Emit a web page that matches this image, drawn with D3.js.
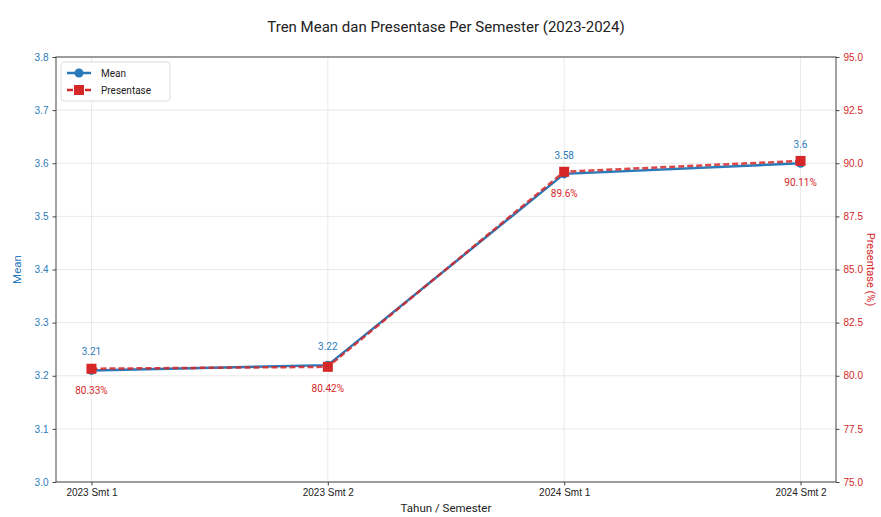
<!DOCTYPE html>
<html><head><meta charset="utf-8">
<script src="https://cdn.jsdelivr.net/npm/d3@7"></script>
<style>body{margin:0;background:#fff}svg{font-family:Roboto,"Open Sans",sans-serif}</style>
</head><body>
<script>
const categories = ["2023 Smt 1","2023 Smt 2","2024 Smt 1","2024 Smt 2"];
const meanValues = [3.21, 3.22, 3.58, 3.60];
const pctValues = [80.33, 80.42, 89.6, 90.11];
const meanLabels = ["3.21","3.22","3.58","3.6"];
const pctLabels = ["80.33%","80.42%","89.6%","90.11%"];
const meanTicks = [3.0,3.1,3.2,3.3,3.4,3.5,3.6,3.7,3.8];
const pctTicks = [75.0,77.5,80.0,82.5,85.0,87.5,90.0,92.5,95.0];

const W=881,H=517, L=56, R=836, T=57, B=482;
const blue="#2b7bba", red="#d62728";
const svg=d3.select("body").append("svg").attr("width",W).attr("height",H);

// matplotlib-like margins: 0.05 of data range each side
const xs=d3.scaleLinear().domain([-0.15,3.15]).range([L,R]);
const xp=c=>xs(categories.indexOf(c));
const y=d3.scaleLinear().domain([3.0,3.8]).range([B,T]);
const y2=d3.scaleLinear().domain([75,95]).range([B,T]);

// grid
const g=svg.append("g");
g.selectAll(".hg").data(meanTicks).join("line").attr("x1",L).attr("x2",R)
 .attr("y1",d=>y(d)).attr("y2",d=>y(d)).attr("stroke","#e3e3e3").attr("stroke-width",0.8);
g.selectAll(".vg").data(categories).join("line").attr("y1",T).attr("y2",B)
 .attr("x1",d=>xp(d)).attr("x2",d=>xp(d)).attr("stroke","#e3e3e3").attr("stroke-width",0.8);

// axes
const ax=svg.append("g").attr("transform",`translate(${L},0)`)
 .call(d3.axisLeft(y).tickValues(meanTicks).tickFormat(d3.format(".1f")).tickSize(3.5).tickPadding(4));
ax.selectAll("text").attr("fill",blue).style("font-size","10px");
const ax2=svg.append("g").attr("transform",`translate(${R},0)`)
 .call(d3.axisRight(y2).tickValues(pctTicks).tickFormat(d3.format(".1f")).tickSize(3.5).tickPadding(4));
ax2.selectAll("text").attr("fill",red).style("font-size","10px");
const axb=svg.append("g").attr("transform",`translate(0,${B})`)
 .call(d3.axisBottom(xs).tickValues([0,1,2,3]).tickFormat(i=>categories[i]).tickSize(3.5).tickPadding(3));
axb.selectAll("text").attr("fill","#222").style("font-size","10px");
[ax,ax2,axb].forEach(a=>{a.select(".domain").remove();a.selectAll("line").attr("stroke","#444");});
svg.append("rect").attr("x",L).attr("y",T).attr("width",R-L).attr("height",B-T)
 .attr("fill","none").attr("stroke","#444").attr("stroke-width",1);

// lines
const lm=d3.line().x((d,i)=>xs(i)).y(d=>y(d));
const lp=d3.line().x((d,i)=>xs(i)).y(d=>y2(d));
svg.append("path").attr("d",lm(meanValues)).attr("fill","none").attr("stroke",blue).attr("stroke-width",2.5);
svg.selectAll(".mc").data(meanValues).join("circle").attr("cx",(d,i)=>xs(i)).attr("cy",d=>y(d)).attr("r",4.5).attr("fill",blue);
svg.append("path").attr("d",lp(pctValues)).attr("fill","none").attr("stroke",red).attr("stroke-width",2.5).attr("stroke-dasharray","6,3").attr("opacity",0.85);
svg.selectAll(".pm").data(pctValues).join("rect").attr("x",(d,i)=>xs(i)-5).attr("y",d=>y2(d)-5).attr("width",10).attr("height",10).attr("fill",red);

// annotations
svg.selectAll(".ml").data(meanValues).join("text").attr("x",(d,i)=>xs(i)).attr("y",d=>y(d)-15)
 .attr("text-anchor","middle").attr("fill",blue).style("font-size","10px").text((d,i)=>meanLabels[i]);
svg.selectAll(".pl").data(pctValues).join("text").attr("x",(d,i)=>xs(i)).attr("y",d=>y2(d)+25)
 .attr("text-anchor","middle").attr("fill",red).style("font-size","10px").text((d,i)=>pctLabels[i]);

// titles
svg.append("text").attr("x",(L+R)/2).attr("y",32).attr("text-anchor","middle").attr("fill","#222").style("font-size","15px").text("Tren Mean dan Presentase Per Semester (2023-2024)");
svg.append("text").attr("x",(L+R)/2).attr("y",512).attr("text-anchor","middle").attr("fill","#222").style("font-size","11.5px").text("Tahun / Semester");
svg.append("text").attr("transform",`translate(21,${(T+B)/2}) rotate(-90)`).attr("text-anchor","middle").attr("fill",blue).style("font-size","11.5px").text("Mean");
svg.append("text").attr("transform",`translate(867,${(T+B)/2}) rotate(90)`).attr("text-anchor","middle").attr("fill",red).style("font-size","11px").text("Presentase (%)");

// legend
const lg=svg.append("g").attr("transform","translate(61,62)");
lg.append("rect").attr("width",109).attr("height",39).attr("rx",3).attr("fill","#fff").attr("stroke","#ddd");
lg.append("line").attr("x1",6).attr("x2",30).attr("y1",11).attr("y2",11).attr("stroke",blue).attr("stroke-width",2.5);
lg.append("circle").attr("cx",18).attr("cy",11).attr("r",4.5).attr("fill",blue);
lg.append("text").attr("x",40).attr("y",15).style("font-size","10px").attr("fill","#222").text("Mean");
lg.append("line").attr("x1",6).attr("x2",30).attr("y1",28).attr("y2",28).attr("stroke",red).attr("stroke-width",2.5).attr("stroke-dasharray","6,3");
lg.append("rect").attr("x",13).attr("y",23).attr("width",10).attr("height",10).attr("fill",red);
lg.append("text").attr("x",40).attr("y",32).style("font-size","10px").attr("fill","#222").text("Presentase");
</script>
</body></html>
